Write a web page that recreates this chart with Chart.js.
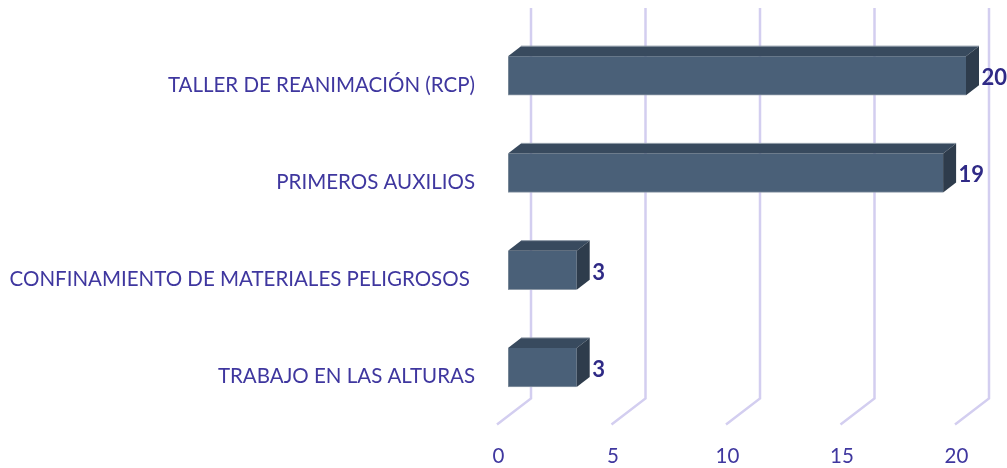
<!DOCTYPE html>
<html><head><meta charset="utf-8">
<style>html,body{margin:0;padding:0;background:#fff}#w{width:1007px;height:468px;position:relative}</style>
<script src="https://cdn.jsdelivr.net/npm/chart.js@4/dist/chart.umd.min.js"></script>
</head><body><div id="w"><canvas id="c"></canvas></div>
<script>
const categories = ["TALLER DE REANIMACIÓN (RCP)", "PRIMEROS AUXILIOS", "CONFINAMIENTO DE MATERIALES PELIGROSOS ", "TRABAJO EN LAS ALTURAS"];
const values = [20, 19, 3, 3];
const tickValues = [0, 5, 10, 15, 20];

const depthX = 13, depthY = 10;
const box3d = {
  id: 'box3d',
  beforeDatasetsDraw(chart) {
    const {ctx, scales: {x}} = chart;
    ctx.save();
    ctx.strokeStyle = '#d3cef0';
    ctx.lineWidth = 2.5;
    tickValues.forEach(v => {
      const p = x.getPixelForValue(v);
      ctx.beginPath();
      ctx.moveTo(p + 23, 8);
      ctx.lineTo(p + 23, 398.5);
      ctx.lineTo(p - 11, 424.5);
      ctx.stroke();
    });
    ctx.restore();
  },
  afterDatasetsDraw(chart) {
    const {ctx} = chart;
    const meta = chart.getDatasetMeta(0);
    ctx.save();
    meta.data.forEach((b, i) => {
      const {x, y, base, height} = b.getProps(['x', 'y', 'base', 'height'], true);
      const t = y - height / 2, bt = y + height / 2;
      ctx.lineWidth = 1;
      ctx.strokeStyle = '#8d99a6';
      ctx.fillStyle = '#384a5e';
      ctx.beginPath();
      ctx.moveTo(base, t); ctx.lineTo(base + depthX, t - depthY);
      ctx.lineTo(x + depthX, t - depthY); ctx.lineTo(x, t); ctx.closePath();
      ctx.fill();
      ctx.beginPath(); ctx.moveTo(base + depthX, t - depthY); ctx.lineTo(x + depthX, t - depthY); ctx.stroke();
      ctx.fillStyle = '#2e3c4c';
      ctx.beginPath();
      ctx.moveTo(x, t); ctx.lineTo(x + depthX, t - depthY);
      ctx.lineTo(x + depthX, bt - depthY); ctx.lineTo(x, bt); ctx.closePath();
      ctx.fill();
      ctx.fillStyle = '#2f2a86';
      ctx.font = 'bold 22px Lato';
      ctx.textAlign = 'left';
      ctx.textBaseline = 'middle';
      ctx.fillText(String(values[i]), x + 15.5, y + 2.5);
    });
    ctx.restore();
  }
};

new Chart(document.getElementById('c'), {
  type: 'bar',
  data: { labels: categories, datasets: [{
    data: values,
    backgroundColor: '#4a6078',
    borderColor: '#8d99a6',
    borderWidth: {left: 1, bottom: 1},
    borderSkipped: false,
    barThickness: 39
  }]},
  plugins: [box3d],
  options: {
    indexAxis: 'y',
    responsive: true,
    maintainAspectRatio: false,
    animation: false,
    layout: { padding: { left: 0, right: 41, top: 27, bottom: 0 } },
    plugins: { legend: {display: false}, tooltip: {enabled: false} },
    scales: {
      x: {
        min: 0, max: 20,
        afterFit(s) { s.height = 52; s.paddingLeft = 0; s.paddingRight = 0; },
        afterBuildTicks(s) { s.ticks = tickValues.map(v => ({value: v})); },
        grid: {display: false, drawTicks: false},
        border: {display: false},
        ticks: { color: '#3f379f', font: {family: 'Lato', size: 20.5}, padding: 28, labelOffset: -9.5, maxRotation: 0 }
      },
      y: {
        afterFit(s) { s.width = 508; s.paddingTop = 0; s.paddingBottom = 0; },
        grid: {display: false, drawTicks: false},
        border: {display: false},
        ticks: { color: '#3f379f', font: {family: 'Lato', size: 20.5}, padding: 33, labelOffset: 9.5, autoSkip: false }
      }
    }
  }
});
</script></body></html>
